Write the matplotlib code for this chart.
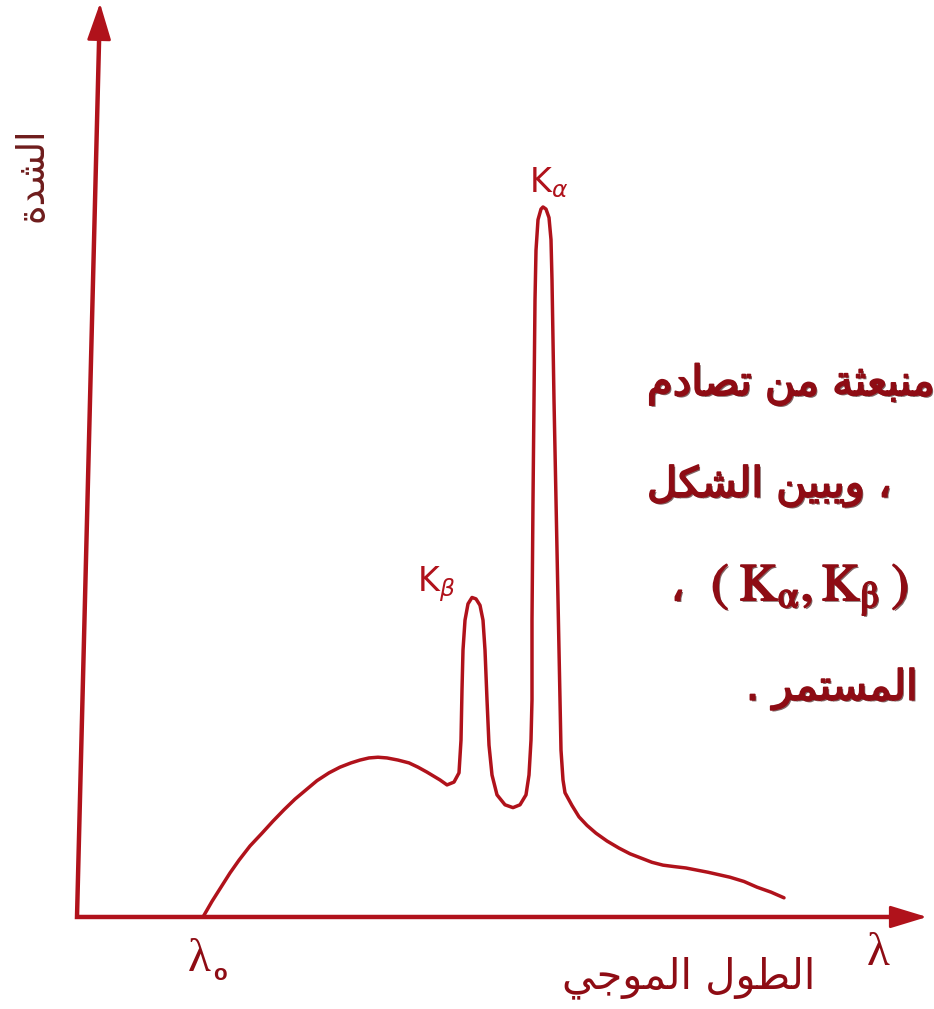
import matplotlib
matplotlib.use('Agg')
import matplotlib.pyplot as plt
import matplotlib.patheffects as pe

plt.rcParams['font.family'] = ['DejaVu Sans']
plt.rcParams['mathtext.fontset'] = 'stix'

# ── 数据：X射线谱（任意单位），从图上读点 ──
wavelength = [12.6, 13.5, 14.4, 15.3, 16.2, 17.3, 18.5, 19.6, 20.7, 21.8,
              22.9, 24.0, 25.2, 26.3, 27.4, 28.3, 29.2, 30.1, 31.0, 32.1,
              33.2, 34.1, 35.0, 36.3, 37.0, 37.7, 38.2,
              # K beta
              38.4, 38.5, 38.6, 38.8, 39.1, 39.5, 39.9, 40.3, 40.6, 40.8,
              41.0, 41.2, 41.5, 42.0, 42.8, 43.6, 44.3, 44.9, 45.2, 45.4,
              # K alpha
              45.5, 45.5, 45.6, 45.7, 45.8, 45.9, 46.1, 46.4, 46.6, 46.9,
              47.2, 47.4, 47.5, 47.7, 48.0, 48.3, 48.4, 48.6, 48.8,
              # tail
              49.5, 50.2, 51.0, 51.9, 53.0, 54.2, 55.3, 56.4, 57.5, 58.6,
              59.7, 60.9, 63.1, 65.3, 66.7, 68.0, 69.4, 70.7]
intensity = [0.0, 2.2, 4.2, 6.2, 8.0, 10.0, 11.8, 13.5, 15.1, 16.6,
             17.9, 19.2, 20.3, 21.1, 21.7, 22.1, 22.4, 22.5, 22.4, 22.1,
             21.7, 21.1, 20.4, 19.3, 18.6, 19.0, 20.3,
             24.9, 32.0, 37.6, 41.8, 44.1, 45.0, 44.8, 43.9, 41.8, 37.6,
             30.6, 24.2, 20.0, 17.2, 15.8, 15.4, 15.8, 17.2, 20.0, 24.9,
             30.6, 41.8, 58.7, 72.8, 86.9, 93.9, 98.2, 99.7, 100.0, 99.7,
             98.5, 95.4, 89.7, 72.8, 51.7, 30.6, 23.5, 19.3, 17.5,
             15.7, 14.1, 12.9, 11.8, 10.7, 9.7, 8.9, 8.3, 7.7, 7.3,
             7.1, 6.9, 6.3, 5.6, 5.0, 4.2, 3.5, 2.7]

# 阿拉伯文：手动写成连写形（Presentation Forms-B），逻辑顺序
w_shidda = '\uFE8D\uFEDF\uFEB8\uFEAA\uFE93'            # الشدة
w_tool = '\uFE8D\uFEDF\uFEC4\uFEEE\uFEDD'              # الطول
w_mawji = '\uFE8D\uFEDF\uFEE4\uFEEE\uFE9F\uFEF2'       # الموجي
w_munbaitha = '\uFEE3\uFEE8\uFE92\uFECC\uFE9C\uFE94'   # منبعثة
w_min = '\uFEE3\uFEE6'                                  # من
w_tasadum = '\uFE97\uFEBC\uFE8E\uFEA9\uFEE1'           # تصادم
w_yubayyin = '\uFEED\uFEF3\uFE92\uFEF4\uFEE6'          # ويبين
w_shakl = '\uFE8D\uFEDF\uFEB8\uFEDC\uFEDE'             # الشكل
w_mustamir = '\uFE8D\uFEDF\uFEE4\uFEB4\uFE98\uFEE4\uFEAE'  # المستمر


def rtl(*words):
    # 从右往左：词内倒序，词序也倒过来
    return ' '.join(w[::-1] for w in reversed(words))


red = '#b0121b'
dark_red = '#8e0c14'

fig = plt.figure(figsize=(9.34, 10.09), dpi=100)
ax = fig.add_axes([0, 0, 1, 1])
ax.set_xlim(-7.7, 85.7)
ax.set_ylim(-12.96, 129.15)
ax.axis('off')

# 坐标轴（带箭头）
ax.plot([2.22, 0, 81.8], [124.2, 0, 0], color=red, lw=3.2,
        solid_joinstyle='miter', solid_capstyle='butt')
ax.annotate('', xy=(2.3, 128.7), xytext=(2.2, 123.0),
            arrowprops=dict(arrowstyle='-|>,head_length=23,head_width=7.5',
                            mutation_scale=1, color=red, lw=2,
                            shrinkA=0, shrinkB=0))
ax.annotate('', xy=(85.0, 0), xytext=(80.5, 0),
            arrowprops=dict(arrowstyle='-|>,head_length=23,head_width=7',
                            mutation_scale=1, color=red, lw=2,
                            shrinkA=0, shrinkB=0))

# 曲线
ax.plot(wavelength, intensity, color=red, lw=2.5,
        solid_joinstyle='round', solid_capstyle='round')

# 标注
ax.text(45.2, 102.1, r'K$_{\alpha}$', color=red, fontsize=24,
        math_fontfamily='dejavusans', ha='left', va='baseline')
ax.text(34.0, 45.8, r'K$_{\beta}$', color=red, fontsize=24,
        math_fontfamily='dejavusans', ha='left', va='baseline')

ax.text(11.1, -7.6, 'λ', family='Liberation Serif', color=dark_red,
        fontsize=34, ha='left', va='baseline')
ax.text(13.6, -8.9, 'o', family='Liberation Sans', color=dark_red,
        fontsize=16, weight='bold', ha='left', va='baseline')
ax.text(80.1, -6.8, 'λ', family='Liberation Serif', color=dark_red,
        fontsize=34, ha='center', va='baseline')

ax.text(73.8, -10.0, rtl(w_tool, w_mawji), color=dark_red, fontsize=30,
        ha='right', va='baseline')
ax.text(-4.4, 104.5, rtl(w_shidda), color='#6e1c1c', fontsize=27,
        rotation=90, ha='center', va='center')

# 右侧被遮住的正文（左边被图盖住，右边出界）
shadow = [pe.SimplePatchShadow(offset=(1.2, -1.2), shadow_rgbFace='#2a0000',
                               alpha=0.6),
          pe.withStroke(linewidth=1.3, foreground=dark_red)]
para = dict(color=dark_red, fontsize=30, ha='left',
            va='baseline', path_effects=shadow)
ax.text(57.0, 73.5, rtl(w_munbaitha, w_min, w_tasadum), **para)
ax.text(57.0, 59.2, rtl('\u060C', w_yubayyin, w_shakl), **para)
ax.text(59.4, 44.6, '\u060C', **para)
ax.text(63.4, 44.6, r'$(\;\mathrm{K}_{\mathrm{\alpha}},\mathrm{K}_{\mathrm{\beta}}\;)$',
        color=dark_red, fontsize=38, ha='left', va='baseline',
        path_effects=shadow)
ax.text(66.9, 30.6, '. ' + w_mustamir[::-1], **para)

plt.savefig('out.png', dpi=100)
